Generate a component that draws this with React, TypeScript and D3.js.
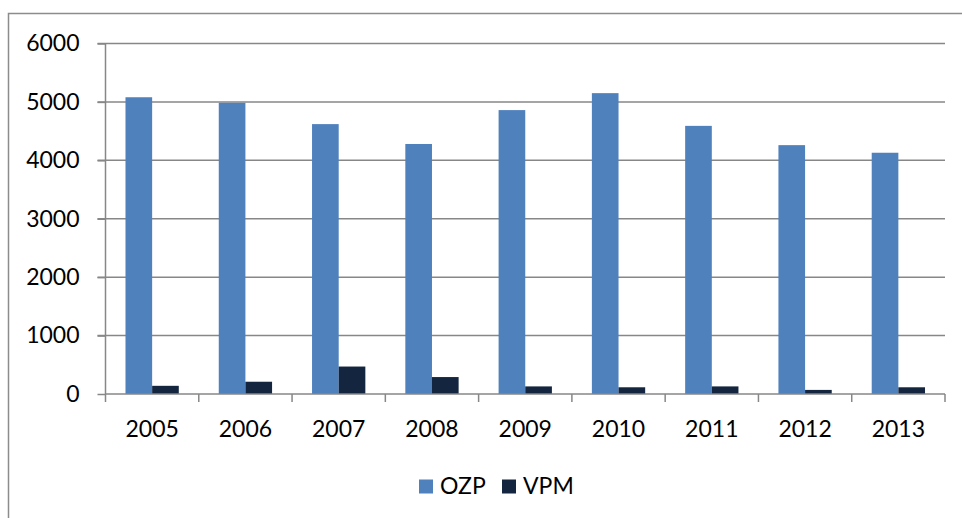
import React, { useEffect, useRef } from "react";
import * as d3 from "d3";

const years = ["2005", "2006", "2007", "2008", "2009", "2010", "2011", "2012", "2013"];
const ozp = [5080, 4985, 4620, 4280, 4860, 5150, 4590, 4260, 4130];
const vpm = [140, 210, 470, 290, 130, 115, 130, 70, 115];
const seriesNames = ["OZP", "VPM"];
const colors = ["#4F81BD", "#14263F"];
const yTicks = [0, 1000, 2000, 3000, 4000, 5000, 6000];

const W = 962;
const H = 518;
const margin = { top: 43.5, right: 17, bottom: 124, left: 105.5 };
const width = W - margin.left - margin.right;
const height = H - margin.top - margin.bottom;
const FONT = "Lato, 'Open Sans', sans-serif";

export default function App() {
    const svgRef = useRef<SVGSVGElement>(null);

    useEffect(() => {
        const svg = d3.select(svgRef.current);
        svg.selectAll("*").remove();

        // outer frame (clipped at right and bottom like the screenshot)
        svg.append("rect")
            .attr("x", 8.5).attr("y", 13.5)
            .attr("width", W).attr("height", H)
            .attr("fill", "white")
            .attr("stroke", "#8c8c8c").attr("stroke-width", 1.5);

        const g = svg.append("g").attr("transform", `translate(${margin.left},${margin.top})`);

        const x = d3.scaleBand().domain(years).range([0, width]).paddingInner(0).paddingOuter(0);
        const y = d3.scaleLinear().domain([0, 6000]).range([height, 0]);
        const barW = x.bandwidth() / 3.5;

        // gridlines
        g.append("g")
            .selectAll("line")
            .data(yTicks.filter(t => t > 0))
            .join("line")
            .attr("x1", -8).attr("x2", width)
            .attr("y1", d => y(d)).attr("y2", d => y(d))
            .attr("stroke", "#878787").attr("stroke-width", 1.5);

        // y axis
        const yAxis = g.append("g")
            .call(d3.axisLeft(y).tickValues(yTicks).tickSize(8).tickPadding(18).tickFormat(d3.format("d")));
        yAxis.select(".domain").attr("stroke", "#878787").attr("stroke-width", 1.5).attr("d", `M0,0V${height}`);
        yAxis.selectAll(".tick line").attr("stroke", "#878787").attr("stroke-width", 1.5);
        yAxis.selectAll("text").attr("font-family", FONT).attr("font-size", 23).attr("fill", "#000");

        // bars
        const series = [ozp, vpm];
        series.forEach((vals, si) => {
            g.append("g")
                .selectAll("rect")
                .data(vals)
                .join("rect")
                .attr("x", (d, i) => (x(years[i]) as number) + barW * 0.75 + si * barW)
                .attr("y", d => y(d))
                .attr("width", barW)
                .attr("height", d => height - y(d))
                .attr("fill", colors[si]);
        });

        // x axis
        const xAxis = g.append("g")
            .attr("transform", `translate(0,${height})`)
            .call(d3.axisBottom(x).tickSize(0).tickPadding(26));
        xAxis.select(".domain").remove();
        xAxis.selectAll("text").attr("font-family", FONT).attr("font-size", 23).attr("fill", "#000").attr("dy", "0.75em");
        xAxis.append("line")
            .attr("x1", 0).attr("x2", width).attr("y1", 0).attr("y2", 0)
            .attr("stroke", "#878787").attr("stroke-width", 1.5);
        xAxis.append("g")
            .selectAll("line")
            .data(d3.range(years.length + 1))
            .join("line")
            .attr("x1", i => i * x.step()).attr("x2", i => i * x.step())
            .attr("y1", 0).attr("y2", 8)
            .attr("stroke", "#878787").attr("stroke-width", 1.5);

        // legend
        const legendX = [419, 502];
        const legend = svg.append("g");
        seriesNames.forEach((name, i) => {
            legend.append("rect")
                .attr("x", legendX[i]).attr("y", 479.5)
                .attr("width", 14).attr("height", 14)
                .attr("fill", colors[i]);
            legend.append("text")
                .attr("x", legendX[i] + 21).attr("y", 494)
                .attr("font-family", FONT).attr("font-size", 23)
                .attr("fill", "#000")
                .text(name);
        });
    }, []);

    return (
        <svg ref={svgRef} width={W} height={H} style={{ position: "absolute", left: 0, top: 0 }}></svg>
    );
}
